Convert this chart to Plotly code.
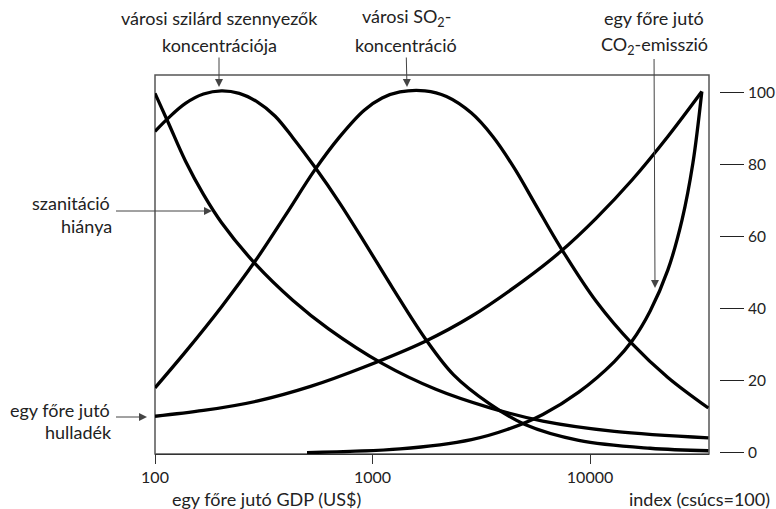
import plotly.graph_objects as go

# ---- data (GDP per capita in US$, index with peak = 100) ----
san_gdp = [100, 115, 138, 167, 202, 290, 431, 628, 1107, 1954, 3443, 6067, 12940, 35000]
san_val = [99.9, 91.8, 81.1, 71.8, 64.0, 52.4, 42.3, 34.4, 24.8, 17.6, 12.5, 8.75, 5.9, 4.1]

spm_gdp = [100, 115, 138, 167, 202, 244, 294, 356, 431, 540, 703, 916, 1242, 1742, 2360, 3443,
           5023, 8872, 18880, 35000]
spm_val = [89.3, 93.0, 97.1, 99.7, 100.6, 99.9, 97.6, 93.6, 87.5, 79.6, 69.6, 58.6, 45.6, 31.8,
           21.6, 13.6, 7.8, 3.4, 1.2, 0.5]

so2_gdp = [100, 138, 202, 290, 399, 540, 703, 916, 1107, 1337, 1742, 2188, 2851, 3573, 4487,
           5623, 7328, 10690, 15600, 22800, 35000]
so2_val = [18.0, 28.0, 40.5, 53.4, 66.1, 78.4, 87.65, 95.2, 98.6, 100.3, 100.6, 99.0, 94.4, 87.9,
           79.1, 68.9, 57.0, 42.0, 30.3, 20.9, 12.4]

waste_gdp = [100, 167, 294, 519, 916, 1742, 2851, 5023, 7328, 10690, 15600, 22800, 32660]
waste_val = [10.1, 11.7, 14.3, 18.4, 23.8, 30.9, 37.9, 48.1, 55.9, 65.2, 75.8, 87.9, 100.4]

co2_gdp = [500, 1337, 2851, 4159, 6067, 8872, 12940, 15600, 18880, 22800, 26490, 29720, 32660]
co2_val = [0.0, 1.0, 3.6, 6.4, 10.6, 16.8, 25.3, 31.0, 39.3, 50.8, 64.7, 80.5, 100.4]

x_tickvals = [100, 1000, 10000]
x_ticktext = ["100", "1000", "10000"]
y_tickvals = [0, 20, 40, 60, 80, 100]

FONT = "Lato"
TXT = "#222222"

fig = go.Figure()
for gx, gy in [(san_gdp, san_val), (spm_gdp, spm_val), (so2_gdp, so2_val),
               (waste_gdp, waste_val), (co2_gdp, co2_val)]:
    fig.add_trace(go.Scatter(x=gx, y=gy, mode="lines",
                             line=dict(color="black", width=3.3, shape="spline", smoothing=1.0),
                             hoverinfo="skip", showlegend=False))

W, H = 776, 509
L, R, T, B = 155, 57, 75, 55
PW, PH = W - L - R, H - T - B


def px(x, y):
    return (x - L) / PW, (H - B - y) / PH


annotations = []
LBL = 18
ARROW = dict(arrowhead=2, arrowsize=1.6, arrowwidth=1, arrowcolor="#444444", standoff=0)


def text(s, x, y, anchor="center", size=LBL, tip=None, yanchor="middle", pad=1):
    a, b = px(x, y)
    ann = dict(text=s, xref="paper", yref="paper", xanchor=anchor, yanchor=yanchor,
               borderpad=pad, font=dict(family=FONT, size=size, color=TXT))
    if tip is None:
        ann.update(x=a, y=b, showarrow=False)
    else:
        ta, tb = px(*tip)
        ann.update(x=ta, y=tb, showarrow=True, ax=x - tip[0], ay=y - tip[1],
                   axref="pixel", ayref="pixel", **ARROW)
    annotations.append(ann)


text("városi szilárd szennyezők", 219, 18)
text("koncentrációja", 219, 45, tip=(219, 87))

text("városi SO<sub>2</sub>-", 406, 18)
text("koncentráció", 406, 45, tip=(407, 87))

text("egy főre jutó", 654, 18)
text("CO<sub>2</sub>-emisszió", 654, 45, tip=(655, 288))

text("szanitáció", 112, 203, "right")
text("hiánya", 116, 211, "right", tip=(212, 211), yanchor="top", pad=3)

text("egy főre jutó", 112, 410, "right")
text("hulladék", 116, 417, "right", tip=(147, 417), yanchor="top", pad=3)

text("egy főre jutó GDP (US$)", 266, 499)
text("index (csúcs=100)", 772, 499, "right")

fig.update_layout(
    width=W, height=H,
    margin=dict(l=L, r=R, t=T, b=B, autoexpand=False),
    paper_bgcolor="white", plot_bgcolor="white",
    font=dict(family=FONT, size=16, color=TXT),
    annotations=annotations,
    shapes=[dict(type="rect", xref="x domain", yref="y domain", x0=0, x1=1, y0=0, y1=1,
                 line=dict(color="#555555", width=1.5), layer="below")],
    xaxis=dict(type="log", range=[2, 4.547], domain=[0, 554 / PW], automargin=False,
               tickvals=x_tickvals, ticktext=x_ticktext,
               ticks="outside", ticklen=9, tickwidth=1.3, tickcolor="#333333",
               showline=True, linecolor="#333333", linewidth=1.3,
               showgrid=False, zeroline=False,
               tickfont=dict(family=FONT, size=16, color=TXT)),
    yaxis=dict(range=[-0.4, 105], anchor="free", position=1, side="right", automargin=False,
               tickvals=y_tickvals, ticks="outside", ticklen=24, tickwidth=1.3,
               tickcolor="#222222", showline=False, showgrid=False, zeroline=False,
               ticklabelstandoff=1,
               tickfont=dict(family=FONT, size=15.5, color=TXT)),
)

fig.write_html("out.html", config={"displayModeBar": False},
               post_script="document.body.style.margin='0px';document.body.style.overflow='hidden';")
